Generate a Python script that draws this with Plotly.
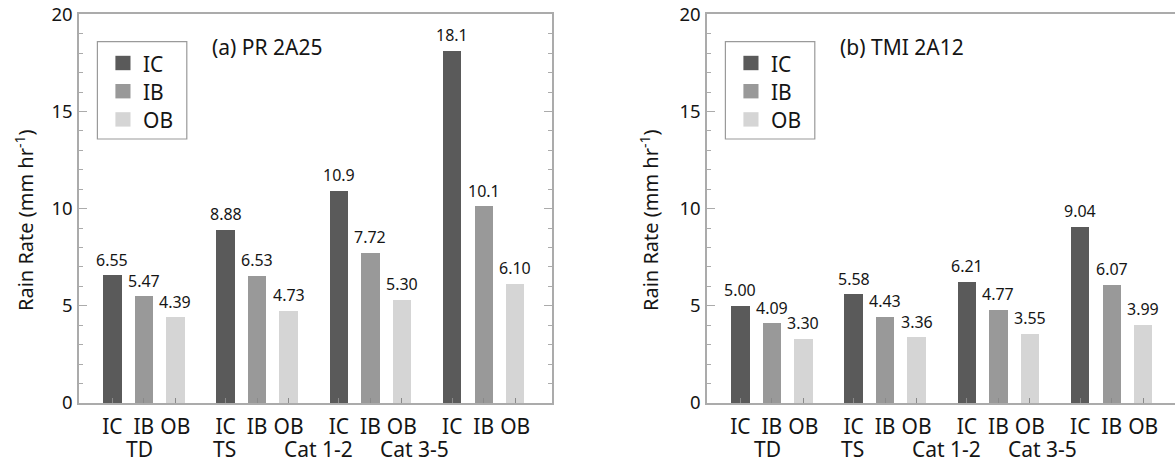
import plotly.graph_objects as go

# ---------------- data ----------------
groups = ["TD", "TS", "Cat 1-2", "Cat 3-5"]
series = ["IC", "IB", "OB"]

pr_ic = [6.55, 8.88, 10.9, 18.1]
pr_ib = [5.47, 6.53, 7.72, 10.1]
pr_ob = [4.39, 4.73, 5.30, 6.10]
pr_ic_lbl = ["6.55", "8.88", "10.9", "18.1"]
pr_ib_lbl = ["5.47", "6.53", "7.72", "10.1"]
pr_ob_lbl = ["4.39", "4.73", "5.30", "6.10"]

tmi_ic = [5.00, 5.58, 6.21, 9.04]
tmi_ib = [4.09, 4.43, 4.77, 6.07]
tmi_ob = [3.30, 3.36, 3.55, 3.99]
tmi_ic_lbl = ["5.00", "5.58", "6.21", "9.04"]
tmi_ib_lbl = ["4.09", "4.43", "4.77", "6.07"]
tmi_ob_lbl = ["3.30", "3.36", "3.55", "3.99"]

panel_titles = ["(a) PR 2A25", "(b) TMI 2A12"]
y_ticks = [0, 5, 10, 15, 20]

# ---------------- style / layout ----------------
colors = {"IC": "#5a5a5a", "IB": "#999999", "OB": "#d5d5d5"}
FONT = "Noto Sans"
TXT = "#151515"
AXC = "#ababab"
GROUP_STEP = 3.6
GROUP_LABEL_X = [0.85, 3.55, 6.55, 9.6]
W, H = 1175, 458
PANEL_LEFT = [79, 707]

def xpos(g, i):
    return g * GROUP_STEP + i

def px(x):
    return x / W

def py(y):
    return (H - y) / H

fig = go.Figure()

panels = [
    ([pr_ic, pr_ib, pr_ob], [pr_ic_lbl, pr_ib_lbl, pr_ob_lbl], "x", "y"),
    ([tmi_ic, tmi_ib, tmi_ob], [tmi_ic_lbl, tmi_ib_lbl, tmi_ob_lbl], "x2", "y2"),
]

annotations = []
shapes = []
tickvals, ticktext = [], []
for g in range(len(groups)):
    for i, s in enumerate(series):
        tickvals.append(xpos(g, i))
        ticktext.append(s)

for p, (vals, lbls, xa, ya) in enumerate(panels):
    for i, (name, v, lb) in enumerate(zip(series, vals, lbls)):
        xs = [xpos(g, i) for g in range(len(groups))]
        fig.add_trace(go.Bar(
            x=xs, y=v, name=name, width=0.585,
            marker=dict(color=colors[name], line=dict(width=0)),
            xaxis=xa, yaxis=ya, showlegend=False, hoverinfo="y",
        ))
        for xx, yy, t in zip(xs, v, lb):
            annotations.append(dict(
                x=xx, y=yy, xref=xa, yref=ya, text=t, showarrow=False,
                yanchor="bottom", xanchor="center", yshift=3,
                font=dict(family=FONT, size=16, color=TXT)))
    for gx, gl in zip(GROUP_LABEL_X, groups):
        annotations.append(dict(
            x=gx, y=py(449), xref=xa, yref="paper", text=gl, showarrow=False,
            yanchor="middle", xanchor="center",
            font=dict(family=FONT, size=21, color=TXT)))

    # legend box (drawn)
    off = PANEL_LEFT[p] - PANEL_LEFT[0]
    shapes.append(dict(type="rect", xref="paper", yref="paper",
                       x0=px(97.4 + off), x1=px(186.8 + off), y0=py(139), y1=py(41.7),
                       line=dict(color="#9a9a9a", width=1.2), fillcolor="white", layer="above"))
    for i, name in enumerate(series):
        cy = 63 + 28.2 * i
        shapes.append(dict(type="rect", xref="paper", yref="paper",
                           x0=px(115.4 + off), x1=px(130.5 + off), y0=py(cy + 7.2), y1=py(cy - 7.2),
                           line=dict(width=0), fillcolor=colors[name], layer="above"))
        annotations.append(dict(x=px(140.5 + off), y=py(cy + 1), xref="paper", yref="paper",
                                text=name, showarrow=False, xanchor="left", yanchor="middle",
                                font=dict(family=FONT, size=21, color=TXT)))

# panel titles and y titles
for tx, tt in zip((267, 902), panel_titles):
    annotations.append(dict(x=px(tx), y=py(47), xref="paper", yref="paper",
                            text=tt, showarrow=False, xanchor="center", yanchor="middle",
                            font=dict(family=FONT, size=21, color=TXT)))
for cx in (24, 649):
    annotations.append(dict(x=px(cx), y=py(220), xref="paper", yref="paper",
                            text="Rain Rate (mm hr<sup>-1</sup>)", textangle=-90, showarrow=False,
                            xanchor="center", yanchor="middle",
                            font=dict(family=FONT, size=20, color=TXT)))

ydom = [py(403), py(14.3)]
unit = 472.7 / 15.02
x_left = -1.06
right_w = W - PANEL_LEFT[1]

xcommon = dict(tickmode="array", tickvals=tickvals, ticktext=ticktext,
               ticks="inside", ticklen=5, tickcolor="#8a8a8a", tickwidth=1,
               showline=True, linecolor=AXC, linewidth=1.5, mirror=True,
               showgrid=False, zeroline=False, ticklabelstandoff=4, automargin=False,
               tickfont=dict(family=FONT, size=21, color=TXT))
ycommon = dict(range=[0, 20], tickvals=y_ticks, ticks="inside", ticklen=8,
               tickcolor=AXC, tickwidth=1.2, showline=True, linecolor=AXC, linewidth=1.5,
               showgrid=False, zeroline=False, ticklabelstandoff=1, automargin=False,
               minor=dict(dtick=1, ticks="inside", ticklen=4, tickcolor=AXC, tickwidth=1, showgrid=False),
               tickfont=dict(family=FONT, size=18.5, color=TXT))

fig.update_layout(
    width=W, height=H, margin=dict(l=0, r=0, t=0, b=0, autoexpand=False),
    paper_bgcolor="white", plot_bgcolor="white",
    showlegend=False, bargap=0,
    xaxis=dict(domain=[px(79), px(551.7)], range=[x_left, x_left + 472.7 / unit], anchor="y", **xcommon),
    yaxis=dict(domain=ydom, anchor="x", mirror="ticks", **ycommon),
    xaxis2=dict(domain=[px(PANEL_LEFT[1]), 1.0], range=[x_left, x_left + right_w / unit], anchor="y2", **xcommon),
    yaxis2=dict(domain=ydom, anchor="x2", mirror=False, **ycommon),
    annotations=annotations,
    shapes=shapes,
    font=dict(family=FONT, color=TXT),
)

fig.write_html("out.html", config={"displayModeBar": False},
               post_script="document.body.style.margin='0';document.body.style.overflow='hidden';")
